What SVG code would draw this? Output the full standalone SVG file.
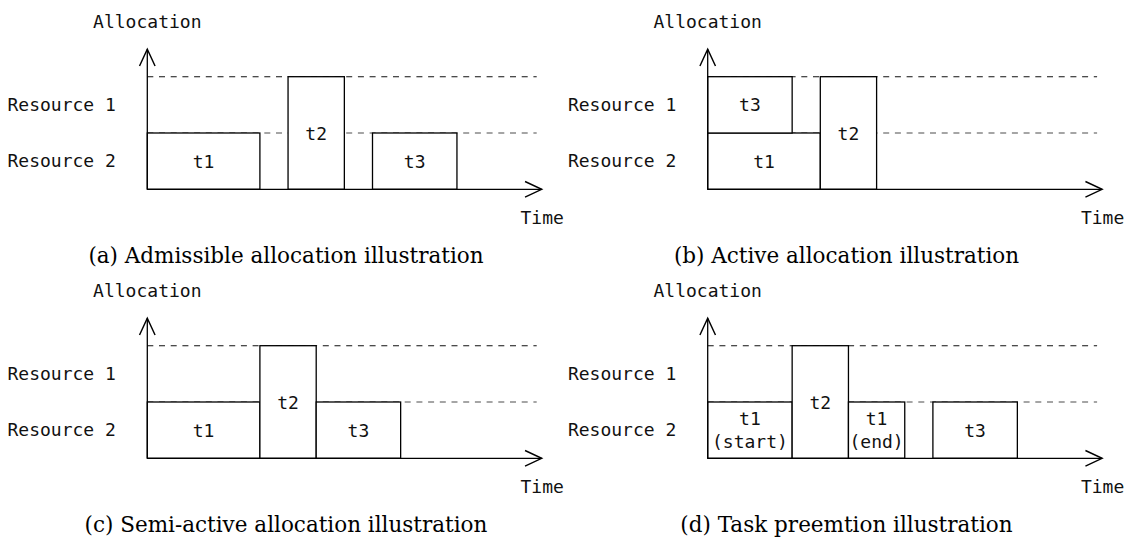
<svg xmlns="http://www.w3.org/2000/svg" width="1131" height="542" viewBox="0 0 1131 542">
  <defs>
    <style>
      .mono { font-family: "DejaVu Sans Mono", "Liberation Mono", monospace; font-size: 18px; fill: #111; }
      .mid { text-anchor: middle; }
      .cap { font-family: "DejaVu Serif", "Liberation Serif", serif; font-size: 21.5px; fill: #000; text-anchor: middle; }
      .task { fill: #fff; stroke: #000; stroke-width: 1.3; }
      .axis { fill: none; stroke: #000; stroke-width: 1.3; }
      .lvl-top { fill: none; stroke: #111; stroke-width: 1.1; stroke-dasharray: 6 5.7; }
      .lvl-mid { fill: none; stroke: #888; stroke-width: 1.3; stroke-dasharray: 6 5.7; }
    </style>
    <marker id="head" markerUnits="userSpaceOnUse" markerWidth="20" markerHeight="20" viewBox="-16 -8 18 16" refX="0" refY="0" orient="auto">
      <path d="M-15 -7 L0 0 L-15 7" fill="none" stroke="#000" stroke-width="1.3"/>
    </marker>
    <!-- shared chart frame: resource levels, axis labels -->
    <g id="frame">
      <path class="lvl-top" d="M0 -112.6 H389.4"/>
      <path class="lvl-mid" d="M0 -56.3 H389.4"/>
      <text class="mono mid" x="0" y="-161">Allocation</text>
      <text class="mono" x="-139.8" y="-77.9">Resource 1</text>
      <text class="mono" x="-139.8" y="-21.9">Resource 2</text>
      <text class="mono mid" x="394.9" y="34.7">Time</text>
    </g>
  </defs>

  <!-- (a) admissible allocation -->
  <g id="panel-a" transform="translate(147.3,189.3)">
    <use href="#frame"/>
    <g id="a-t1"><rect class="task" x="0" y="-56.3" width="112.6" height="56.3"/><text class="mono mid" x="56.3" y="-21.55">t1</text></g>
    <g id="a-t2"><rect class="task" x="140.75" y="-112.6" width="56.3" height="112.6"/><text class="mono mid" x="168.9" y="-49.7">t2</text></g>
    <g id="a-t3"><rect class="task" x="225.2" y="-56.3" width="84.45" height="56.3"/><text class="mono mid" x="267.4" y="-21.55">t3</text></g>
    <g id="a-axes" class="connectors">
      <path class="axis" d="M0 0 V-140" marker-end="url(#head)"/>
      <path class="axis" d="M0 0 H394.4" marker-end="url(#head)"/>
    </g>
  </g>

  <!-- (b) active allocation -->
  <g id="panel-b" transform="translate(707.7,189.3)">
    <use href="#frame"/>
    <g id="b-t1"><rect class="task" x="0" y="-56.3" width="112.6" height="56.3"/><text class="mono mid" x="56.3" y="-21.55">t1</text></g>
    <g id="b-t3"><rect class="task" x="0" y="-112.6" width="84.45" height="56.3"/><text class="mono mid" x="42.2" y="-77.85">t3</text></g>
    <g id="b-t2"><rect class="task" x="112.6" y="-112.6" width="56.3" height="112.6"/><text class="mono mid" x="140.75" y="-49.7">t2</text></g>
    <g id="b-axes" class="connectors">
      <path class="axis" d="M0 0 V-140" marker-end="url(#head)"/>
      <path class="axis" d="M0 0 H394.4" marker-end="url(#head)"/>
    </g>
  </g>

  <!-- (c) semi-active allocation -->
  <g id="panel-c" transform="translate(147.3,458.3)">
    <use href="#frame"/>
    <g id="c-t1"><rect class="task" x="0" y="-56.3" width="112.6" height="56.3"/><text class="mono mid" x="56.3" y="-21.55">t1</text></g>
    <g id="c-t2"><rect class="task" x="112.6" y="-112.6" width="56.3" height="112.6"/><text class="mono mid" x="140.75" y="-49.7">t2</text></g>
    <g id="c-t3"><rect class="task" x="168.9" y="-56.3" width="84.45" height="56.3"/><text class="mono mid" x="211.1" y="-21.55">t3</text></g>
    <g id="c-axes" class="connectors">
      <path class="axis" d="M0 0 V-140" marker-end="url(#head)"/>
      <path class="axis" d="M0 0 H394.4" marker-end="url(#head)"/>
    </g>
  </g>

  <!-- (d) task preemption -->
  <g id="panel-d" transform="translate(707.7,458.3)">
    <use href="#frame"/>
    <g id="d-t1-start"><rect class="task" x="0" y="-56.3" width="84.45" height="56.3"/><text class="mono mid" x="42.2" y="-33.3">t1</text><text class="mono mid" x="42.2" y="-10">(start)</text></g>
    <g id="d-t2"><rect class="task" x="84.45" y="-112.6" width="56.3" height="112.6"/><text class="mono mid" x="112.6" y="-49.7">t2</text></g>
    <g id="d-t1-end"><rect class="task" x="140.75" y="-56.3" width="56.3" height="56.3"/><text class="mono mid" x="168.9" y="-33.3">t1</text><text class="mono mid" x="168.9" y="-10">(end)</text></g>
    <g id="d-t3"><rect class="task" x="225.2" y="-56.3" width="84.45" height="56.3"/><text class="mono mid" x="267.4" y="-21.55">t3</text></g>
    <g id="d-axes" class="connectors">
      <path class="axis" d="M0 0 V-140" marker-end="url(#head)"/>
      <path class="axis" d="M0 0 H394.4" marker-end="url(#head)"/>
    </g>
  </g>

  <!-- captions -->
  <text class="cap" x="286" y="263">(a) Admissible allocation illustration</text>
  <text class="cap" x="846.5" y="263">(b) Active allocation illustration</text>
  <text class="cap" x="286" y="532">(c) Semi-active allocation illustration</text>
  <text class="cap" x="846.5" y="532">(d) Task preemtion illustration</text>
</svg>
